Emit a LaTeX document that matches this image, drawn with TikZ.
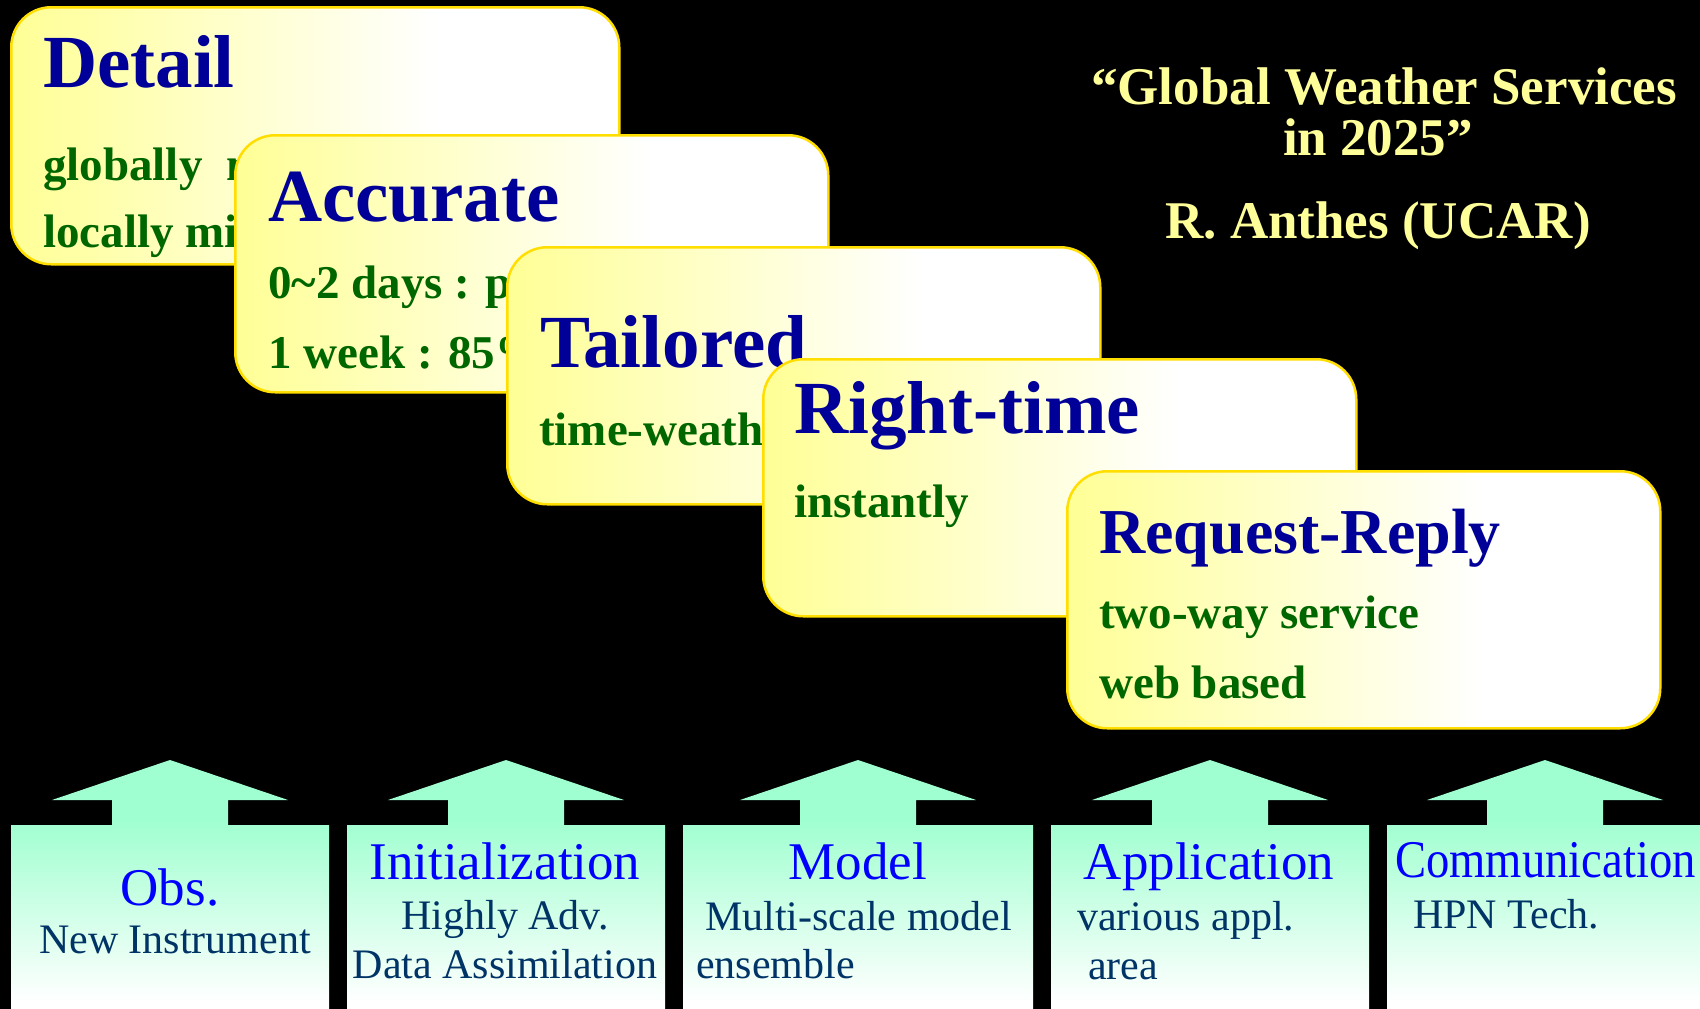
\documentclass[tikz,border=0pt]{standalone}
\usepackage{fontspec}
\setmainfont{Liberation Serif}
\usepackage{graphicx}

\definecolor{cardyellow}{RGB}{255,255,150}
\definecolor{cardline}{RGB}{255,222,0}
\definecolor{headblue}{RGB}{0,0,153}
\definecolor{bodygreen}{RGB}{0,102,0}
\definecolor{quoteyellow}{RGB}{255,255,153}
\definecolor{mint}{RGB}{160,255,208}
\definecolor{pillarblue}{RGB}{0,0,255}
\definecolor{pillarnavy}{RGB}{0,51,102}

% cards fade from yellow on the left to white on the right
\pgfdeclarehorizontalshading{cardfade}{100bp}{%
  color(0bp)=(cardyellow); color(25bp)=(cardyellow);
  color(60bp)=(white); color(100bp)=(white)}
% pillars fade from mint at the top to white at the bottom
\pgfdeclareverticalshading{mintfade}{100bp}{%
  color(0bp)=(white); color(27bp)=(white);
  color(63bp)=(mint); color(100bp)=(mint)}

\tikzset{
  card/.style={draw=cardline, line width=2.5pt, rounded corners=40pt,
    shading=cardfade, anchor=north west, inner sep=0pt,
    minimum width=593pt, minimum height=257pt},
  cardhead/.style={anchor=base west, inner sep=0pt, text=headblue,
    font=\fontsize{75}{75}\selectfont\bfseries},
  cardbody/.style={anchor=base west, inner sep=0pt, text=bodygreen,
    font=\fontsize{47}{47}\selectfont\bfseries},
  quote/.style={anchor=base, inner sep=0pt, text=quoteyellow,
    font=\fontsize{53}{53}\selectfont\bfseries},
  pillar/.style={shading=mintfade, draw=none},
  pillarhead/.style={anchor=base, inner sep=0pt, text=pillarblue,
    font=\fontsize{53}{53}\selectfont},
  pillarbody/.style={inner sep=0pt, text=pillarnavy,
    font=\fontsize{42}{42}\selectfont},
}

% up-arrow pillar: #1 = centre x, #2 = half width of the body
\newcommand\pillarshape[2]{%
  \path[pillar] (#1,760) -- (#1+118,800) -- (#1+58,800) -- (#1+58,825)
    -- (#1+#2,825) -- (#1+#2,1012) -- (#1-#2,1012) -- (#1-#2,825)
    -- (#1-58,825) -- (#1-58,800) -- (#1-118,800) -- cycle;}

\begin{document}
\begin{tikzpicture}[x=1pt,y=-1pt]
  \useasboundingbox (0,0) rectangle (1700,1009);
  \fill[black] (0,0) rectangle (1700,1009);
  \clip (0,0) rectangle (1700,1009);

  % title block
  \node[quote] (q1) at (1384,104) {“Global Weather Services};
  \node[quote] (q2) at (1378,155) {in 2025”};
  \node[quote] (q3) at (1378,238) {R. Anthes (UCAR)};

  % stacked cards
  \node[card, minimum width=608pt] (detail) at (10,6) {};
  \node[cardhead] (detailT) at (43,87) {Detail};
  \node[cardbody] (detailA) at (43,180) {globally\ \ m};
  \node[cardbody] (detailB) at (43,247) {locally mi};

  \node[card] (accurate) at (234,134) {};
  \node[cardhead] (accurateT) at (268,221) {Accurate};
  \node[cardbody] (accurateA) at (268,298) {0\textasciitilde 2 days : p};
  \node[cardbody] (accurateB) at (268,368) {1 week : 85\%};

  \node[card] (tailored) at (506,246) {};
  \node[cardhead] (tailoredT) at (540,367) {Tailored};
  \node[cardbody] (tailoredA) at (539,445) {time-weath};

  \node[card] (righttime) at (762,358) {};
  \node[cardhead] (righttimeT) at (794,433) {Right-time};
  \node[cardbody] (righttimeA) at (794,517) {instantly};

  \node[card] (request) at (1066,470) {};
  \node[cardhead, font=\fontsize{64}{64}\selectfont\bfseries] (requestT) at (1099,553) {Request-Reply};
  \node[cardbody] (requestA) at (1099,628) {two-way service};
  \node[cardbody] (requestB) at (1099,698) {web based};

  % pillars
  \pillarshape{170}{159}
  \pillarshape{506}{159}
  \pillarshape{858}{175}
  \pillarshape{1210}{159}
  \pillarshape{1545}{158}

  \node[pillarhead] (obsT) at (170,905) {Obs.};
  \node[pillarbody, anchor=base] (obsA) at (175,953) {New Instrument};

  \node[pillarhead] (initT) at (505,879) {Initialization};
  \node[pillarbody, anchor=base] (initA) at (505,929) {Highly Adv.};
  \node[pillarbody, anchor=base] (initB) at (505,978) {Data Assimilation};

  \node[pillarhead] (modelT) at (858,879) {Model};
  \node[pillarbody, anchor=base west] (modelA) at (705,930) {Multi-scale model};
  \node[pillarbody, anchor=base west] (modelB) at (696,978) {ensemble};

  \node[pillarhead] (applT) at (1209,879) {Application};
  \node[pillarbody, anchor=base west] (applA) at (1077,930) {various appl.};
  \node[pillarbody, anchor=base west] (applB) at (1088,979) {area};

  \node[pillarhead, anchor=base west] (commT) at (1395,877) {\scalebox{0.88}[1]{Communication}};
  \node[pillarbody, anchor=base west] (commA) at (1413,928) {HPN Tech.};
\end{tikzpicture}
\end{document}
